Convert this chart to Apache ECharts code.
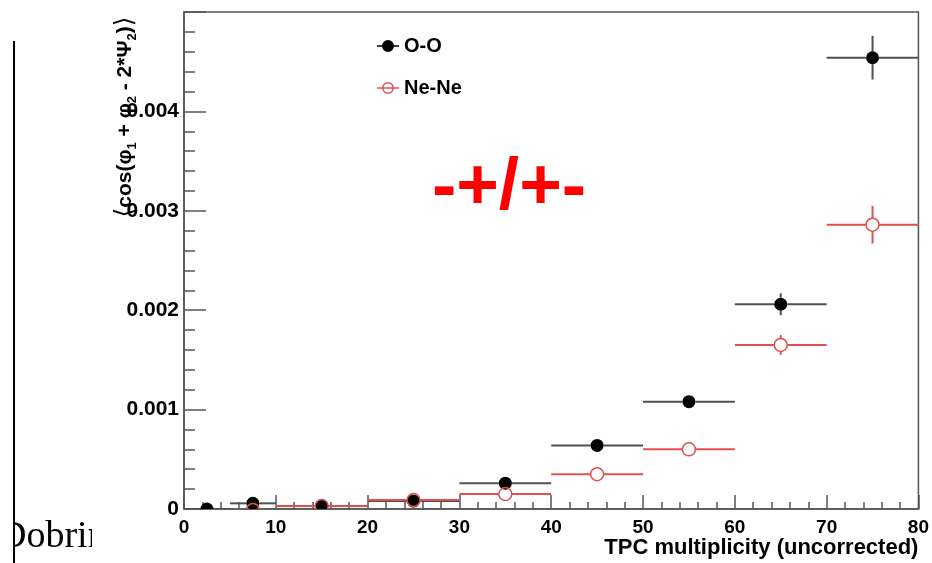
<!DOCTYPE html>
<html>
<head>
<meta charset="utf-8">
<script src="https://cdn.jsdelivr.net/npm/echarts@6/dist/echarts.min.js"></script>
<style>
  html, body { margin: 0; padding: 0; background: #fff; }
  #chart { width: 932px; height: 563px; }
</style>
</head>
<body>
<div id="chart"></div>
<script>
// bins of TPC multiplicity
const binCenters = [2.5, 7.5, 15, 25, 35, 45, 55, 65, 75];
const binLow = [0, 5, 10, 20, 30, 40, 50, 60, 70];
const binHigh = [5, 10, 20, 30, 40, 50, 60, 70, 80];

// O-O
const ooValues = [0, 0.000057, 0.00003, 0.00008, 0.00026, 0.00064, 0.00108, 0.00206, 0.00454];
const ooErrors = [0.00001, 0.00002, 0.00002, 0.00002, 0.00003, 0.00003, 0.00004, 0.00011, 0.00022];

// Ne-Ne (no point in first bin)
const neValues = [null, -0.00001, 0.00003, 0.00009, 0.00015, 0.00035, 0.0006, 0.00165, 0.00286];
const neErrors = [null, 0.00002, 0.00002, 0.00002, 0.00002, 0.00003, 0.00003, 0.0001, 0.00019];

const xTicks = [0, 10, 20, 30, 40, 50, 60, 70, 80];
const yTicks = [0, 0.001, 0.002, 0.003, 0.004];

const BLACK = '#000';
const BLACK_LINE = '#505050';
const RED = '#e0504f';

function buildData(values, errors) {
    const out = [];
    for (let i = 0; i < binCenters.length; i++) {
        if (values[i] == null) continue;
        out.push([binCenters[i], values[i], binLow[i], binHigh[i], errors[i]]);
    }
    return out;
}

// draws a ROOT style marker with error bars that stop at the marker edge
function makeRender(lineColor, markerColor, filled, r) {
    return function (params, api) {
        const v = api.value(1);
        const c = api.coord([api.value(0), v]);
        const lo = api.coord([api.value(2), v]);
        const hi = api.coord([api.value(3), v]);
        const top = api.coord([api.value(0), v + api.value(4)]);
        const bot = api.coord([api.value(0), v - api.value(4)]);
        const lineStyle = { stroke: lineColor, lineWidth: 2 };
        const children = [
            { type: 'line', shape: { x1: lo[0], y1: c[1], x2: c[0] - r, y2: c[1] }, style: lineStyle },
            { type: 'line', shape: { x1: c[0] + r, y1: c[1], x2: hi[0], y2: c[1] }, style: lineStyle }
        ];
        if (top[1] < c[1] - r) {
            children.push({ type: 'line', shape: { x1: c[0], y1: c[1] - r, x2: c[0], y2: top[1] }, style: lineStyle });
            children.push({ type: 'line', shape: { x1: c[0], y1: c[1] + r, x2: c[0], y2: bot[1] }, style: lineStyle });
        }
        children.push({
            type: 'circle',
            shape: { cx: c[0], cy: c[1], r: r },
            style: filled ? { fill: markerColor } : { fill: 'none', stroke: markerColor, lineWidth: 1.5 }
        });
        return { type: 'group', children: children };
    };
}

const chart = echarts.init(document.getElementById('chart'), null, { renderer: 'canvas' });

const labelFont = { color: '#000', fontWeight: 'bold', fontFamily: 'Liberation Sans, Arial, sans-serif' };

const option = {
    animation: false,
    backgroundColor: '#fff',
    grid: {
        left: 184, right: 13, top: 12, bottom: 54,
        show: true, borderColor: '#555', borderWidth: 1.5, backgroundColor: 'transparent'
    },
    legend: {
        left: 372, top: 31, orient: 'vertical', itemGap: 22,
        itemWidth: 22, itemHeight: 12,
        textStyle: Object.assign({ fontSize: 20 }, labelFont),
        data: [
            { name: 'O-O', icon: 'path://M0,5.2H22V6.8H0Z M17,6A6,6 0 1,1 5,6A6,6 0 1,1 17,6Z', itemStyle: { color: BLACK } },
            { name: 'Ne-Ne', icon: 'path://M0,5.2H22V6.8H0Z M17,6A6,6 0 1,1 5,6A6,6 0 1,1 17,6Z M15.6,6A4.6,4.6 0 1,0 6.4,6A4.6,4.6 0 1,0 15.6,6Z', itemStyle: { color: RED } }
        ]
    },
    xAxis: {
        type: 'value', min: xTicks[0], max: xTicks[xTicks.length - 1], interval: 10,
        name: 'TPC multiplicity (uncorrected)', nameLocation: 'end', nameGap: 0,
        nameTextStyle: Object.assign({ fontSize: 22, align: 'right', verticalAlign: 'top', padding: [28, 0, 0, 0] }, labelFont),
        axisLine: { show: true, lineStyle: { color: '#555', width: 1.5 } },
        axisTick: { show: true, inside: true, length: 14, lineStyle: { color: '#555', width: 1.5 } },
        minorTick: { show: true, splitNumber: 5, length: 7, lineStyle: { color: '#555', width: 1.5 } },
        axisLabel: Object.assign({ fontSize: 19, margin: 9 }, labelFont),
        splitLine: { show: false }
    },
    yAxis: {
        type: 'value', min: yTicks[0], max: 0.005, interval: 0.001,
        axisLine: { show: true, lineStyle: { color: '#555', width: 1.5 } },
        axisTick: { show: true, inside: true, length: 22, lineStyle: { color: '#555', width: 1.5 } },
        minorTick: { show: true, splitNumber: 5, length: 11, lineStyle: { color: '#555', width: 1.5 } },
        axisLabel: Object.assign({
            fontSize: 21, margin: 5, showMaxLabel: false,
            formatter: function (v) { return yTicks.indexOf(v) < 0 ? '' : (v === 0 ? '0' : v.toFixed(3)); }
        }, labelFont),
        splitLine: { show: false }
    },
    series: [
        {
            name: 'O-O', type: 'custom', clip: true,
            itemStyle: { color: BLACK },
            renderItem: makeRender(BLACK_LINE, BLACK, true, 6.5),
            encode: { x: 0, y: 1 },
            data: buildData(ooValues, ooErrors)
        },
        {
            name: 'Ne-Ne', type: 'custom', clip: true,
            itemStyle: { color: RED },
            renderItem: makeRender(RED, RED, false, 6.5),
            encode: { x: 0, y: 1 },
            data: buildData(neValues, neErrors)
        }
    ],
    graphic: [
        {
            type: 'text', x: 125, y: 117, rotation: Math.PI / 2, z: 50,
            style: {
                text: '{b|⟨}cos(φ{s|1} + φ{s|2} - 2*Ψ{s|2}){b|⟩}',
                fontSize: 21, fontWeight: 'bold', fontFamily: 'Liberation Sans, Arial, sans-serif',
                fill: '#000', align: 'center', verticalAlign: 'middle',
                rich: {
                    b: { fontSize: 25, fontWeight: 'normal', fontFamily: 'DejaVu Sans', lineHeight: 27 },
                    s: { fontSize: 13, fontWeight: 'bold', verticalAlign: 'bottom', lineHeight: 14 }
                }
            }
        },
        {
            type: 'text', x: 509, y: 189, z: 50,
            style: {
                text: '-+/+-', fontSize: 73, fontWeight: 'bold',
                fontFamily: 'Liberation Sans, Arial, sans-serif',
                fill: '#ff0000', align: 'center', verticalAlign: 'middle'
            }
        },
        {
            type: 'text', x: -1, y: 537, z: 50, z2: 0,
            style: {
                text: 'Dobrin', fontSize: 38, fontFamily: 'Liberation Serif, Times New Roman, serif',
                fill: '#000', align: 'left', verticalAlign: 'middle'
            }
        },
        { type: 'rect', z: 50, z2: 1, shape: { x: 0, y: 514, width: 13, height: 49 }, style: { fill: '#fff' } },
        { type: 'rect', z: 50, z2: 1, shape: { x: 92, y: 514, width: 80, height: 49 }, style: { fill: '#fff' } },
        { type: 'line', z: 50, z2: 2, shape: { x1: 14, y1: 41, x2: 14, y2: 563 }, style: { stroke: '#000', lineWidth: 2 } }
    ]
};

chart.setOption(option);
</script>
</body>
</html>
